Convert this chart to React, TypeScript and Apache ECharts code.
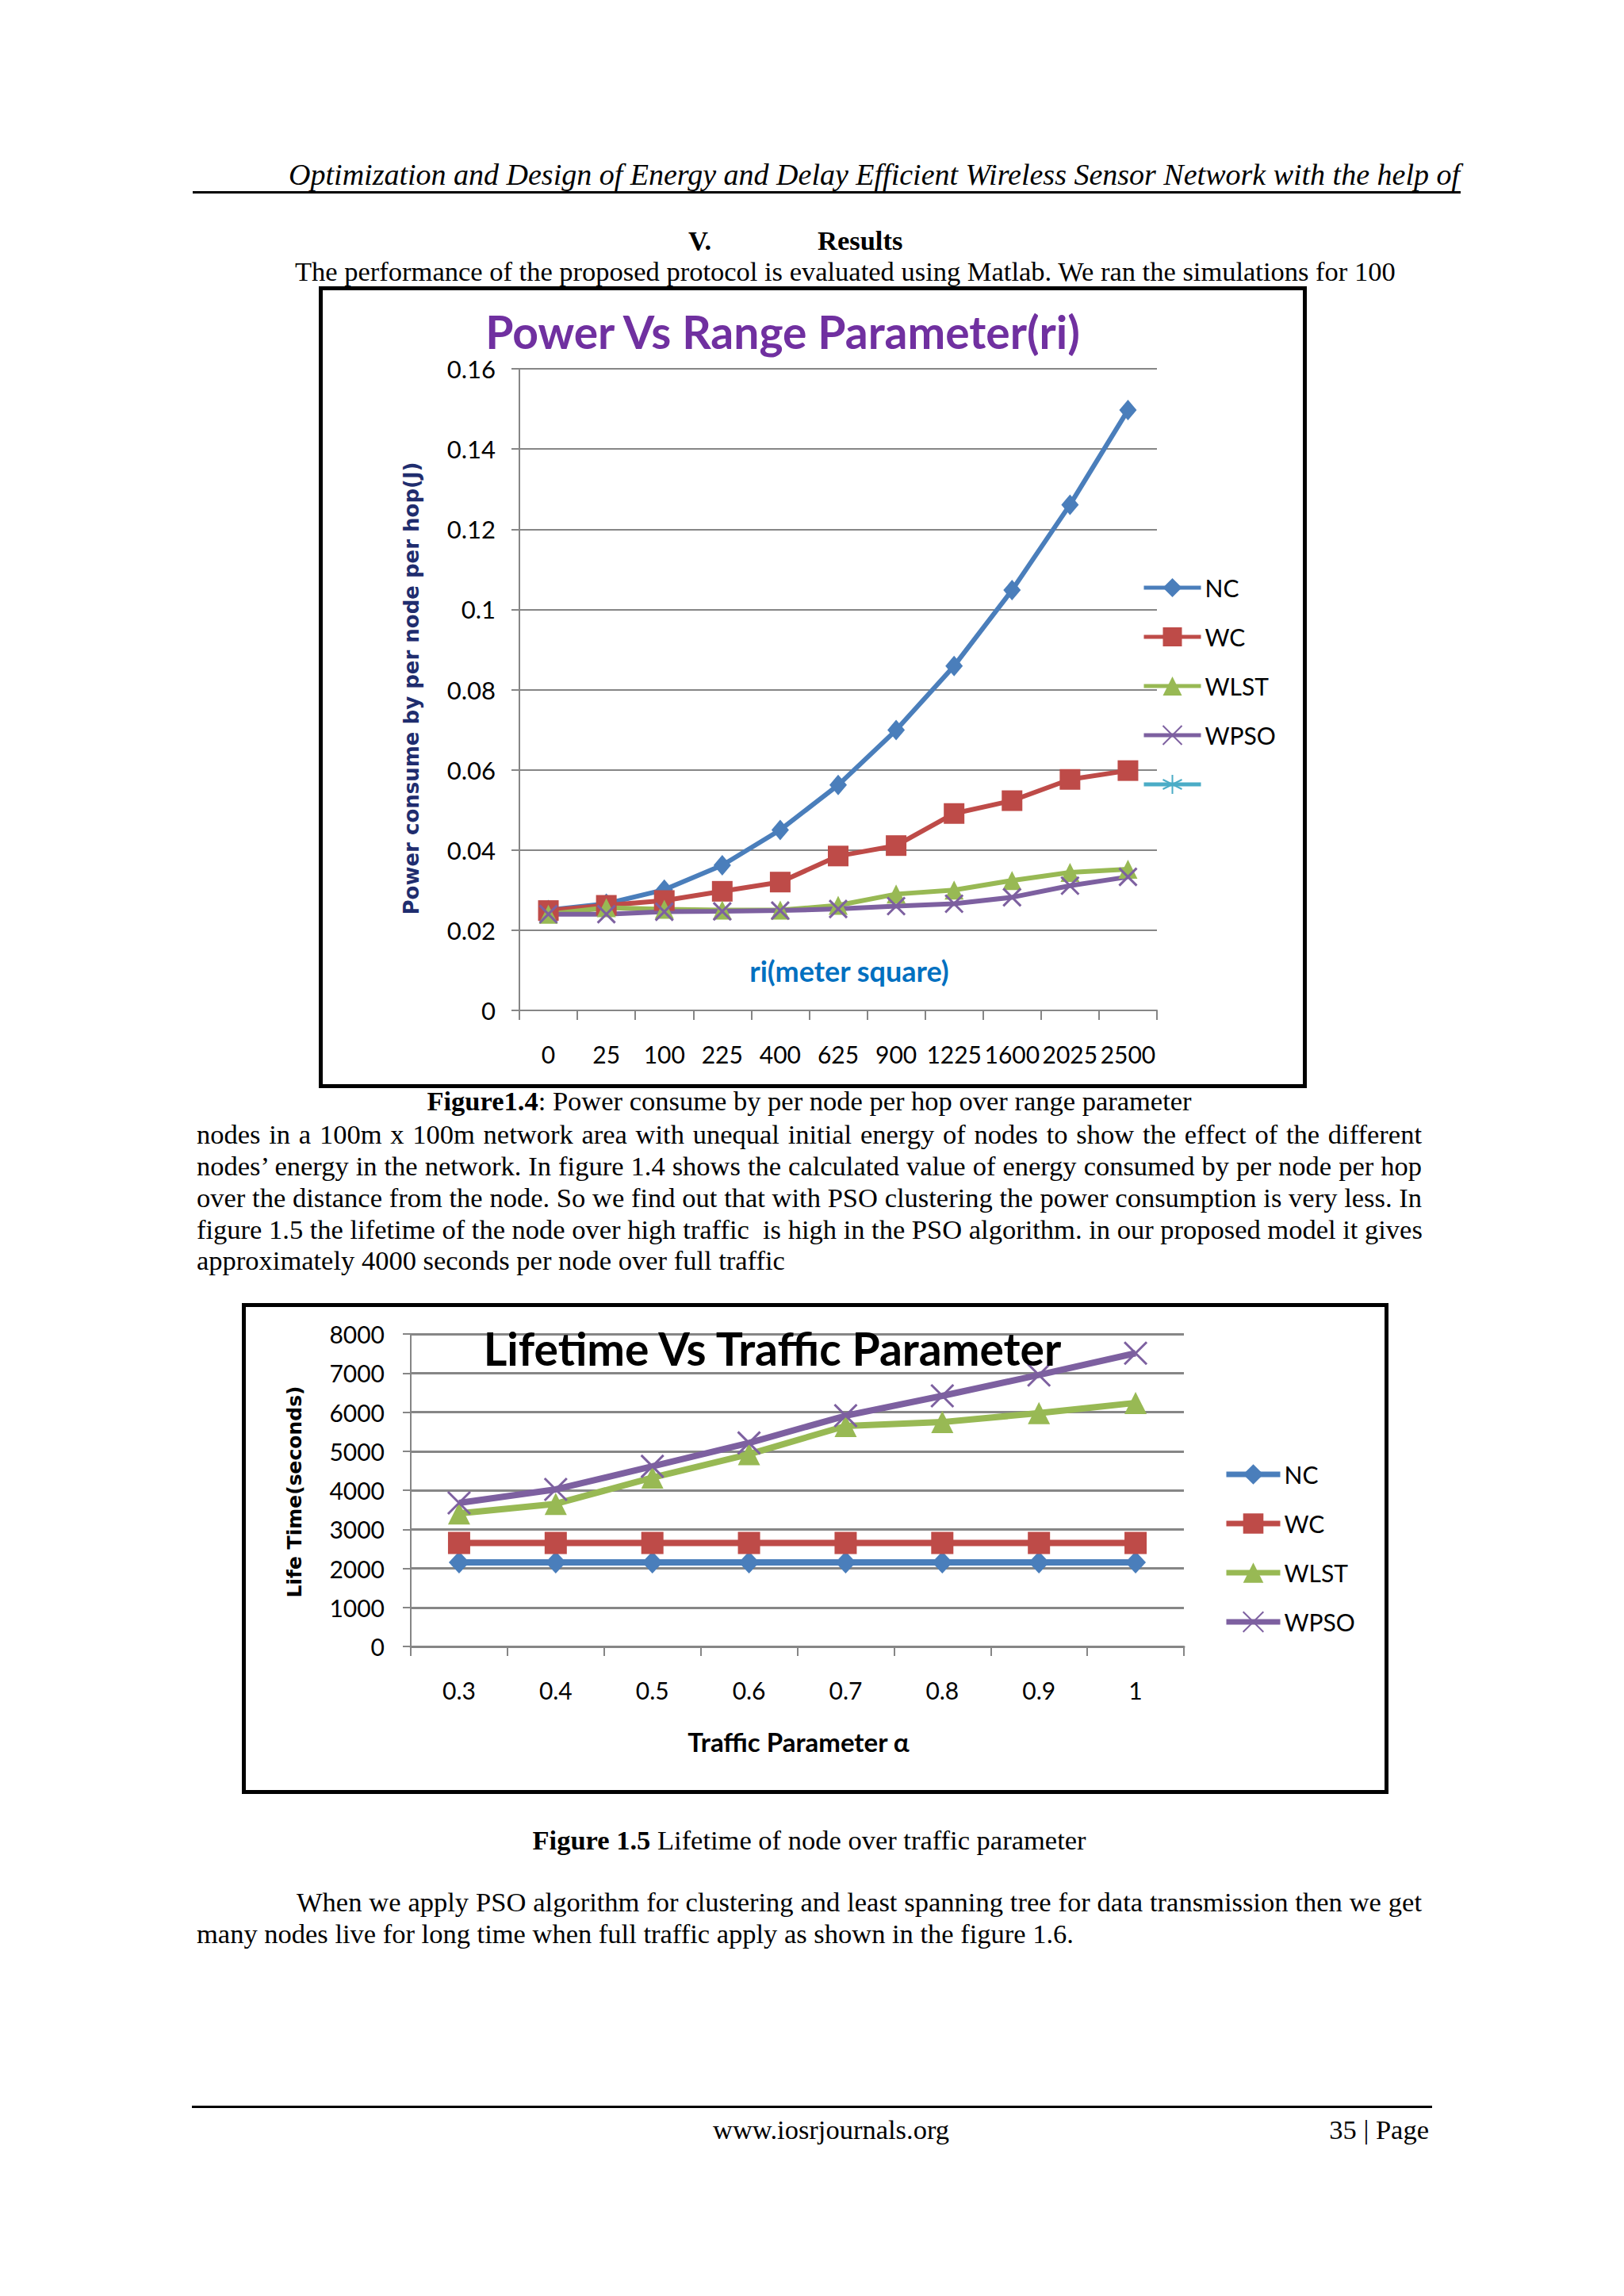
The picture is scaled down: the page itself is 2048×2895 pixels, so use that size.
import { useEffect, useRef } from 'react'
import * as echarts from 'echarts'

// Figure 1.4 data
const ranges = ['0', '25', '100', '225', '400', '625', '900', '1225', '1600', '2025', '2500']
const ncPower = [0.025, 0.0266, 0.0301, 0.0362, 0.045, 0.0562, 0.0699, 0.0859, 0.1048, 0.1261, 0.1497]
const wcPower = [0.0249, 0.0262, 0.0274, 0.0297, 0.032, 0.0385, 0.0411, 0.0491, 0.0523, 0.0576, 0.0598]
const wlstPower = [0.024, 0.0256, 0.0252, 0.025, 0.025, 0.0262, 0.029, 0.03, 0.0324, 0.0344, 0.0352]
const wpsoPower = [0.024, 0.024, 0.0246, 0.0247, 0.0249, 0.0253, 0.026, 0.0266, 0.0282, 0.0311, 0.0333]

// Figure 1.5 data
const traffic = ['0.3', '0.4', '0.5', '0.6', '0.7', '0.8', '0.9', '1']
const ncLife = [2150, 2150, 2150, 2150, 2150, 2150, 2150, 2150]
const wcLife = [2650, 2650, 2650, 2650, 2650, 2650, 2650, 2650]
const wlstLife = [3405, 3651, 4324, 4923, 5645, 5744, 5973, 6236]
const wpsoLife = [3676, 4021, 4611, 5210, 5908, 6416, 6950, 7508]

const BLUE = '#4A7EBB'
const RED = '#BE4B48'
const GREEN = '#98B954'
const PURPLE = '#7D60A0'
const CYAN = '#4BACC6'
const GRID = '#868686'
const CHART_FONT = 'Lato'

const crossPath = 'path://M0,0 L10,10 M10,0 L0,10'
const starPath = 'path://M5,0 L5,10 M0,2.5 L10,7.5 M0,7.5 L10,2.5 M0,5 L10,5'

function lineSeries(name: string, data: number[], color: string, symbol: string, size: any, width: number) {
  return {
    name,
    type: 'line',
    data,
    symbol,
    symbolSize: size,
    lineStyle: { color, width },
    itemStyle: { color, borderColor: color, borderWidth: symbol.startsWith('path') ? 3 : 0 },
    z: 3
  }
}

function ChartBox({ option, left, top, width, height }: any): JSX.Element {
  const ref = useRef<HTMLDivElement>(null)

  useEffect(() => {
    if (!ref.current) return
    const chart = echarts.init(ref.current, null, { renderer: 'svg' })
    chart.setOption(option)
    return () => {
      chart.dispose()
    }
  }, [])

  return (
    <div
      style={{
        position: 'absolute',
        left,
        top,
        width,
        height,
        border: '5px solid #000',
        boxSizing: 'border-box',
        background: '#fff'
      }}
    >
      <div ref={ref} style={{ width: width - 10, height: height - 10 }} />
    </div>
  )
}

const powerOption = {
  animation: false,
  backgroundColor: '#fff',
  grid: { left: 248, top: 99, width: 804, height: 809 },
  legend: {
    orient: 'vertical',
    left: 1028,
    top: 352,
    itemWidth: 72,
    itemHeight: 30,
    itemGap: 26,
    lineStyle: { width: 5 },
    textStyle: { fontFamily: CHART_FONT, fontSize: 30, color: '#000', lineHeight: 36 },
    data: ['NC', 'WC', 'WLST', 'WPSO', ' ']
  },
  xAxis: {
    type: 'category',
    data: ranges,
    boundaryGap: true,
    axisLine: { lineStyle: { color: GRID, width: 2 } },
    axisTick: { show: true, length: 12, lineStyle: { color: GRID, width: 2 } },
    axisLabel: { fontFamily: CHART_FONT, fontSize: 30, color: '#000', margin: 40, interval: 0 }
  },
  yAxis: {
    type: 'value',
    min: 0,
    max: 0.16,
    interval: 0.02,
    axisLine: { show: true, lineStyle: { color: GRID, width: 2 } },
    axisTick: { show: true, length: 10, lineStyle: { color: GRID, width: 2 } },
    splitLine: { lineStyle: { color: GRID, width: 2 } },
    axisLabel: { fontFamily: CHART_FONT, fontSize: 31, color: '#000', margin: 30 }
  },
  graphic: [
    {
      type: 'text',
      x: 580,
      y: 52,
      style: {
        text: 'Power Vs Range Parameter(ri)',
        fill: '#7030A0',
        font: `bold 57px ${CHART_FONT}`,
        align: 'center',
        verticalAlign: 'middle',
        textAlign: 'center',
        textVerticalAlign: 'middle'
      }
    },
    {
      type: 'text',
      x: 112,
      y: 502,
      rotation: Math.PI / 2,
      style: {
        text: 'Power consume by per node per hop(J)',
        fill: '#1F2D6E',
        font: 'bold 26px "DejaVu Sans"',
        align: 'center',
        verticalAlign: 'middle',
        textAlign: 'center',
        textVerticalAlign: 'middle'
      }
    },
    {
      type: 'text',
      x: 664,
      y: 858,
      style: {
        text: 'ri(meter square)',
        fill: '#0070C0',
        font: `bold 36px ${CHART_FONT}`,
        align: 'center',
        verticalAlign: 'middle',
        textAlign: 'center',
        textVerticalAlign: 'middle'
      }
    }
  ],
  series: [
    lineSeries('NC', ncPower, BLUE, 'diamond', [22, 26], 6),
    lineSeries('WC', wcPower, RED, 'rect', 26, 6),
    lineSeries('WLST', wlstPower, GREEN, 'triangle', 24, 6),
    lineSeries('WPSO', wpsoPower, PURPLE, crossPath, 22, 6),
    lineSeries(' ', [], CYAN, starPath, 22, 6)
  ]
}

const lifeOption = {
  animation: false,
  backgroundColor: '#fff',
  grid: { left: 208, top: 34, width: 975, height: 394 },
  legend: {
    orient: 'vertical',
    left: 1228,
    top: 188,
    itemWidth: 68,
    itemHeight: 32,
    itemGap: 26,
    lineStyle: { width: 7 },
    textStyle: { fontFamily: CHART_FONT, fontSize: 30, color: '#000', lineHeight: 36 },
    data: ['NC', 'WC', 'WLST', 'WPSO']
  },
  xAxis: {
    type: 'category',
    data: traffic,
    boundaryGap: true,
    axisLine: { lineStyle: { color: GRID, width: 3 } },
    axisTick: { show: true, length: 12, lineStyle: { color: GRID, width: 2 } },
    axisLabel: { fontFamily: CHART_FONT, fontSize: 30, color: '#000', margin: 40, interval: 0 }
  },
  yAxis: {
    type: 'value',
    min: 0,
    max: 8000,
    interval: 1000,
    axisLine: { show: true, lineStyle: { color: GRID, width: 2 } },
    axisTick: { show: true, length: 10, lineStyle: { color: GRID, width: 2 } },
    splitLine: { lineStyle: { color: GRID, width: 3 } },
    axisLabel: {
      fontFamily: CHART_FONT,
      fontSize: 30,
      color: '#000',
      margin: 33,
      formatter: (v: number) => String(v)
    }
  },
  graphic: [
    {
      type: 'text',
      x: 664,
      y: 52,
      z: 10,
      style: {
        text: 'Lifetime Vs Traffic Parameter',
        fill: '#000',
        font: `bold 57px ${CHART_FONT}`,
        align: 'center',
        verticalAlign: 'middle',
        textAlign: 'center',
        textVerticalAlign: 'middle'
      }
    },
    {
      type: 'text',
      x: 61,
      y: 233,
      rotation: Math.PI / 2,
      style: {
        text: 'Life Time(seconds)',
        fill: '#000',
        font: 'bold 25px "DejaVu Sans"',
        align: 'center',
        verticalAlign: 'middle',
        textAlign: 'center',
        textVerticalAlign: 'middle'
      }
    },
    {
      type: 'text',
      x: 697,
      y: 548,
      style: {
        text: 'Traffic Parameter α',
        fill: '#000',
        font: `bold 33px ${CHART_FONT}`,
        align: 'center',
        verticalAlign: 'middle',
        textAlign: 'center',
        textVerticalAlign: 'middle'
      }
    }
  ],
  series: [
    lineSeries('NC', ncLife, BLUE, 'diamond', [26, 28], 8),
    lineSeries('WC', wcLife, RED, 'rect', 28, 8),
    lineSeries('WLST', wlstLife, GREEN, 'triangle', 28, 8),
    lineSeries('WPSO', wpsoLife, PURPLE, crossPath, 28, 8)
  ]
}

function TextLine({ top, left, width, align, children, style }: any): JSX.Element {
  return (
    <div
      style={{
        position: 'absolute',
        top: top - 20,
        left,
        width,
        height: 40,
        lineHeight: '40px',
        whiteSpace: 'nowrap',
        textAlign: align || 'left',
        textAlignLast: align || 'left',
        ...style
      }}
    >
      {children}
    </div>
  )
}

export default function App(): JSX.Element {
  const L = 248
  const W = 1545
  return (
    <div
      style={{
        position: 'absolute',
        left: 0,
        top: 0,
        width: 2048,
        height: 2895,
        background: '#fff',
        fontFamily: '"Liberation Serif", "Times New Roman", serif',
        fontSize: 34.5,
        color: '#000',
        overflow: 'hidden'
      }}
    >
      <TextLine top={220} left={200} width={1641} align="right" style={{ fontStyle: 'italic', fontSize: 38 }}>
        Optimization and Design of Energy and Delay Efficient Wireless Sensor Network with the help of
      </TextLine>
      <div style={{ position: 'absolute', left: 243, top: 241, width: 1599, height: 3, background: '#000' }} />

      <TextLine top={303} left={868} width={400} style={{ fontWeight: 'bold' }}>
        V.
      </TextLine>
      <TextLine top={303} left={1031} width={400} style={{ fontWeight: 'bold' }}>
        Results
      </TextLine>
      <TextLine top={342} left={372} width={1386} align="justify">
        The performance of the proposed protocol is evaluated using Matlab. We ran the simulations for 100
      </TextLine>

      <ChartBox option={powerOption} left={402} top={361} width={1246} height={1011} />

      <TextLine top={1388} left={L} width={W} align="center">
        <b>Figure1.4</b>: Power consume by per node per hop over range parameter
      </TextLine>
      <TextLine top={1430} left={L} width={W} align="justify">
        nodes in a 100m x 100m network area with unequal initial energy of nodes to show the effect of the different
      </TextLine>
      <TextLine top={1470} left={L} width={W} align="justify">
        nodes’ energy in the network. In figure 1.4 shows the calculated value of energy consumed by per node per hop
      </TextLine>
      <TextLine top={1510} left={L} width={W} align="justify">
        over the distance from the node. So we find out that with PSO clustering the power consumption is very less. In
      </TextLine>
      <TextLine top={1550} left={L} width={W} align="justify">
        figure 1.5 the lifetime of the node over high traffic&nbsp; is high in the PSO algorithm. in our proposed model it gives
      </TextLine>
      <TextLine top={1589} left={L} width={W}>
        approximately 4000 seconds per node over full traffic
      </TextLine>

      <ChartBox option={lifeOption} left={305} top={1643} width={1446} height={619} />

      <TextLine top={2320} left={L} width={W} align="center">
        <b>Figure 1.5</b> Lifetime of node over traffic parameter
      </TextLine>
      <TextLine top={2398} left={374} width={1419} align="justify">
        When we apply PSO algorithm for clustering and least spanning tree for data transmission then we get
      </TextLine>
      <TextLine top={2438} left={L} width={W}>
        many nodes live for long time when full traffic apply as shown in the figure 1.6.
      </TextLine>

      <div style={{ position: 'absolute', left: 242, top: 2655, width: 1564, height: 3, background: '#000' }} />
      <TextLine top={2685} left={L} width={1600} align="center">
        www.iosrjournals.org
      </TextLine>
      <TextLine top={2685} left={1493} width={309} align="right">
        35 | Page
      </TextLine>
    </div>
  )
}
